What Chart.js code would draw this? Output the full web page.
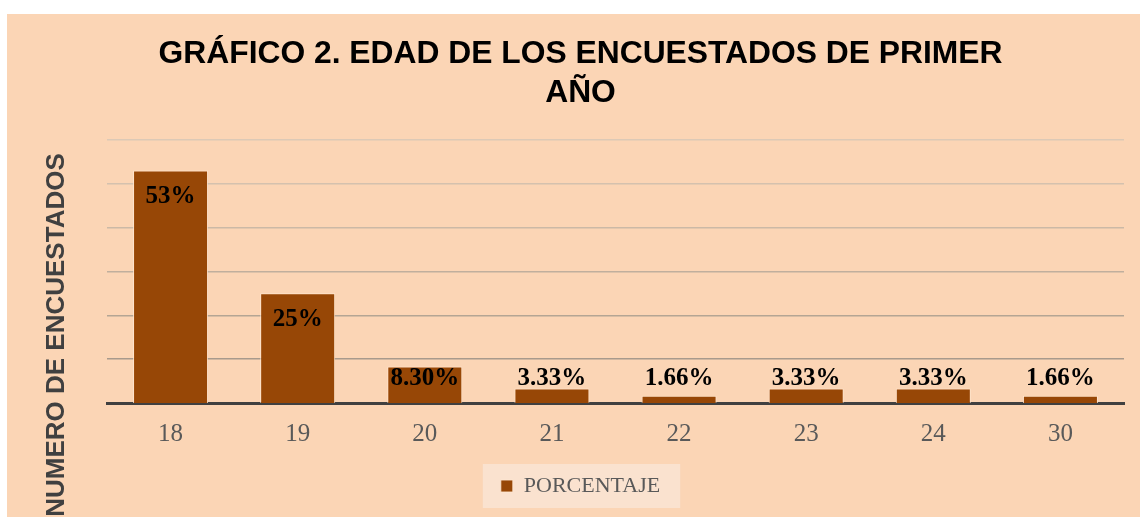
<!DOCTYPE html>
<html>
<head>
<meta charset="utf-8">
<script src="https://cdn.jsdelivr.net/npm/chart.js@4"></script>
<style>
  html, body { margin: 0; padding: 0; background: #ffffff; }
  #frame {
    position: absolute; left: 7px; top: 14px;
    width: 1133px; height: 503px;
    background: #FBD5B5; overflow: hidden;
  }
</style>
</head>
<body>
<div id="frame"><canvas id="edadChart" width="1133" height="503"></canvas></div>
<script>
// Gráfico 2 – edad de los encuestados de primer año
const edades = ['18', '19', '20', '21', '22', '23', '24', '30'];
const porcentaje = [53, 25, 8.3, 3.33, 1.66, 3.33, 3.33, 1.66];
const etiquetas = ['53%', '25%', '8.30%', '3.33%', '1.66%', '3.33%', '3.33%', '1.66%'];
const tituloLineas = ['GRÁFICO 2. EDAD DE LOS ENCUESTADOS DE PRIMER', 'AÑO'];
const tituloEje = 'NUMERO DE ENCUESTADOS';

const BAR = '#974706';
const SERIF = '"Liberation Serif", "DejaVu Serif", serif';
const SANS = '"Liberation Sans", Arial, sans-serif';

// grid gets a bit darker toward the axis, like the original
const gridShades = ['#404040', '#A89a8c', '#B4A594', '#C0AF9d', '#CBB9A6', '#D4C1AE', '#DCC9B6'];

// light box behind the legend entry
const legendBg = {
  id: 'legendBg',
  beforeDraw(chart) {
    const lg = chart.legend;
    if (!lg || !lg.legendHitBoxes || !lg.legendHitBoxes.length) return;
    const hb = lg.legendHitBoxes[0];
    const ctx = chart.ctx;
    ctx.save();
    ctx.fillStyle = '#FAE2CF';
    const cy = hb.top + hb.height / 2;
    ctx.fillRect(hb.left - 18, cy - 22, hb.width + 38, 44);
    ctx.restore();
  }
};

// value labels, "inside end" but kept above the axis on short bars
const barLabels = {
  id: 'barLabels',
  afterDatasetsDraw(chart) {
    const ctx = chart.ctx;
    const meta = chart.getDatasetMeta(0);
    ctx.save();
    ctx.font = 'bold 25px ' + SERIF;
    ctx.fillStyle = '#000000';
    ctx.textAlign = 'center';
    ctx.textBaseline = 'middle';
    meta.data.forEach((bar, i) => {
      const y = Math.min(bar.y + 26, bar.base - 24);
      ctx.fillText(etiquetas[i], bar.x, y);
    });
    ctx.restore();
  }
};

// vertical axis title sits lower than the plot centre (it runs off the bottom)
const ejeTitulo = {
  id: 'ejeTitulo',
  afterDraw(chart) {
    const ctx = chart.ctx;
    ctx.save();
    ctx.translate(50, 321);
    ctx.rotate(-Math.PI / 2);
    ctx.font = 'bold 26px ' + SANS;
    ctx.fillStyle = '#404040';
    ctx.textAlign = 'center';
    ctx.textBaseline = 'middle';
    ctx.fillText(tituloEje, 0, 0);
    ctx.restore();
  }
};

new Chart(document.getElementById('edadChart').getContext('2d'), {
  type: 'bar',
  data: {
    labels: edades,
    datasets: [{
      label: 'PORCENTAJE',
      data: porcentaje,
      backgroundColor: BAR,
      borderColor: 'rgba(255,232,210,0.85)',
      borderWidth: 1,
      barPercentage: 0.59,
      categoryPercentage: 1.0,
    }]
  },
  options: {
    responsive: false,
    animation: false,
    layout: { padding: { left: 30, right: 16, top: 0, bottom: 10 } },
    plugins: {
      title: {
        display: true,
        text: tituloLineas,
        color: '#000000',
        font: { family: SANS, size: 31.8, weight: 'bold', lineHeight: 1.226 },
        padding: { top: 21.2, bottom: 26.6 },
      },
      legend: {
        display: true,
        position: 'bottom',
        labels: {
          color: '#595959',
          font: { family: SERIF, size: 22 },
          boxWidth: 12,
          boxHeight: 12,
          padding: 10,
        }
      },
      tooltip: { enabled: false },
    },
    scales: {
      x: {
        grid: { display: false, drawTicks: false },
        border: { color: '#404040', width: 3 },
        ticks: { color: '#595959', font: { family: SERIF, size: 25 }, padding: 16 },
        afterFit: s => { s.height = 62; },
      },
      y: {
        min: 0,
        max: 60,
        ticks: { display: false, stepSize: 10 },
        grid: {
          drawTicks: false,
          color: ctx => gridShades[ctx.index] || '#D4C1AE',
          lineWidth: ctx => ctx.index === 0 ? 0 : 1.5,
        },
        border: { display: false },
        afterFit: s => { s.width = 70; },
      }
    }
  },
  plugins: [legendBg, barLabels, ejeTitulo]
});
</script>
</body>
</html>
